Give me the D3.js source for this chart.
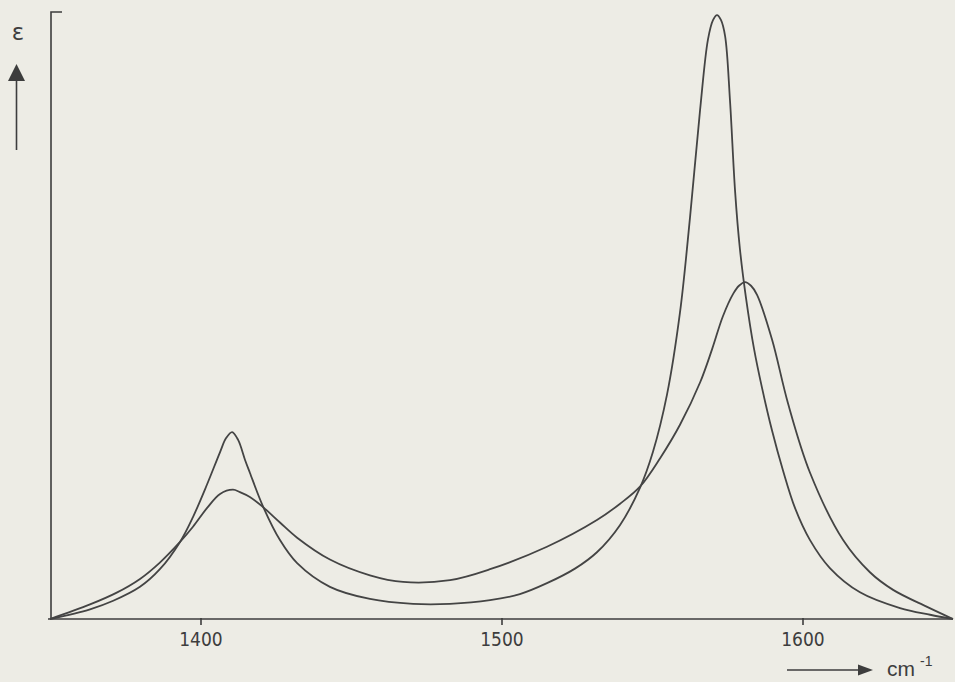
<!DOCTYPE html>
<html>
<head>
<meta charset="utf-8">
<script src="https://cdn.jsdelivr.net/npm/d3@7"></script>
<style>
  html, body { margin: 0; padding: 0; background: #edece5; }
  svg { display: block; }
</style>
</head>
<body>
<svg id="spectrum"></svg>
<script>
// wavenumbers (cm-1) and extinction (arbitrary units)
const waveA = [1350, 1363.3, 1371, 1379.9, 1386.5, 1393.2, 1397.5, 1402.2, 1406.5, 1408.5, 1410.5, 1412.5, 1414.8, 1416.4, 1420.8, 1426.4, 1432.1, 1443, 1456.3, 1470.6, 1482.9, 1496.2, 1506.1, 1515.1, 1524.4, 1531.7, 1539.4, 1546, 1550.3, 1555, 1559.3, 1562.6, 1566, 1568.6, 1570.3, 1571.6, 1572.9, 1574.3, 1575.9, 1577.6, 1579.2, 1581.2, 1583.9, 1586.5, 1589.9, 1593.5, 1597.5, 1602.5, 1609.1, 1619.1, 1632.4, 1642.4, 1650];
const epsA = [0, 1.6, 3.0, 5.3, 8.2, 12.7, 16.8, 22.2, 27.5, 29.8, 30.8, 29.5, 26.2, 24.1, 18.5, 13.0, 9.2, 5.3, 3.3, 2.5, 2.5, 3.1, 4.1, 5.9, 8.3, 11.0, 15.5, 21.6, 27.5, 37.0, 50.5, 66.0, 84.0, 95.5, 98.7, 99.5, 98.7, 96.0, 85.5, 70.5, 61.0, 53.0, 44.5, 38.2, 31.0, 24.5, 18.3, 13.0, 8.4, 4.4, 1.8, 0.7, 0];

const waveB = [1350, 1363.3, 1372, 1379.9, 1386.5, 1393.2, 1397.5, 1402.2, 1406.5, 1410.8, 1413.1, 1416.4, 1420.4, 1426.4, 1432.1, 1443, 1456.3, 1467.3, 1482.9, 1496.2, 1515.1, 1531.7, 1539.4, 1546, 1552.7, 1559.3, 1566, 1570, 1573.5, 1577, 1578.9, 1580.9, 1582.9, 1584.9, 1589.9, 1595.2, 1602.5, 1613.5, 1622.4, 1630.1, 1641.4, 1650];
const epsB = [0, 2.4, 4.3, 6.6, 9.3, 12.7, 15.2, 18.3, 20.6, 21.3, 20.9, 20.1, 18.6, 15.9, 13.4, 9.8, 7.2, 6.1, 6.4, 8.2, 11.9, 16.3, 19.0, 21.8, 26.5, 32.0, 39.0, 44.5, 49.8, 53.6, 54.9, 55.5, 54.9, 53.4, 46.0, 35.5, 24.1, 13.0, 7.7, 4.8, 2.0, 0];

const xTicks = [1400, 1500, 1600];

const width = 955, height = 682;
const ink = "#3d3d3d";

const svg = d3.select("#spectrum")
    .attr("width", width)
    .attr("height", height);

const x = d3.scaleLinear().domain([1350, 1650]).range([50, 953]);
const y = d3.scaleLinear().domain([0, 100]).range([619, 12]);

// x axis with small ticks pointing down
const xAxis = svg.append("g")
    .attr("transform", `translate(0,${y(0)})`)
    .call(d3.axisBottom(x).tickValues(xTicks).tickFormat(d3.format("d"))
        .tickSize(6).tickSizeOuter(0).tickPadding(8));
xAxis.select(".domain").attr("stroke", ink).attr("stroke-width", 1.6).attr("d", `M48,0H953`);
xAxis.selectAll(".tick line").attr("stroke", ink).attr("stroke-width", 1.6).attr("y1", -1);
xAxis.selectAll(".tick text")
    .attr("fill", ink)
    .style("font", "19px 'DejaVu Sans Condensed', 'DejaVu Sans', sans-serif");

// y axis: plain vertical line with a short stub at the top
svg.append("path")
    .attr("d", `M62,${y(100)}H51V${y(0)}`)
    .attr("fill", "none")
    .attr("stroke", ink)
    .attr("stroke-width", 1.6);

// curves
const line = d3.line()
    .x(d => x(d[0]))
    .y(d => y(d[1]))
    .curve(d3.curveCatmullRom.alpha(0.5));

[[waveA, epsA], [waveB, epsB]].forEach(([w, e]) => {
    svg.append("path")
        .datum(d3.zip(w, e))
        .attr("d", line)
        .attr("fill", "none")
        .attr("stroke", "#444")
        .attr("stroke-width", 1.8)
        .attr("stroke-linejoin", "round");
});

// epsilon label with upward arrow
svg.append("text")
    .attr("x", 18).attr("y", 40)
    .attr("text-anchor", "middle")
    .attr("fill", ink)
    .style("font", "23px 'DejaVu Sans', sans-serif")
    .text("ε");
svg.append("line")
    .attr("x1", 16.5).attr("x2", 16.5).attr("y1", 150).attr("y2", 78)
    .attr("stroke", ink).attr("stroke-width", 1.6);
svg.append("path")
    .attr("d", "M16.5,64L25,81H8Z")
    .attr("fill", ink);

// wavenumber arrow and unit
svg.append("line")
    .attr("x1", 787).attr("x2", 860).attr("y1", 670).attr("y2", 670)
    .attr("stroke", ink).attr("stroke-width", 1.6);
svg.append("path")
    .attr("d", "M873,670L858,664.5V675.5Z")
    .attr("fill", ink);
const unit = svg.append("text")
    .attr("x", 887).attr("y", 676)
    .attr("fill", ink)
    .style("font", "21px 'Liberation Sans', Arial, sans-serif");
unit.append("tspan").text("cm");
unit.append("tspan")
    .attr("dx", 5).attr("dy", -10)
    .style("font-size", "14px")
    .text("-1");
</script>
</body>
</html>
